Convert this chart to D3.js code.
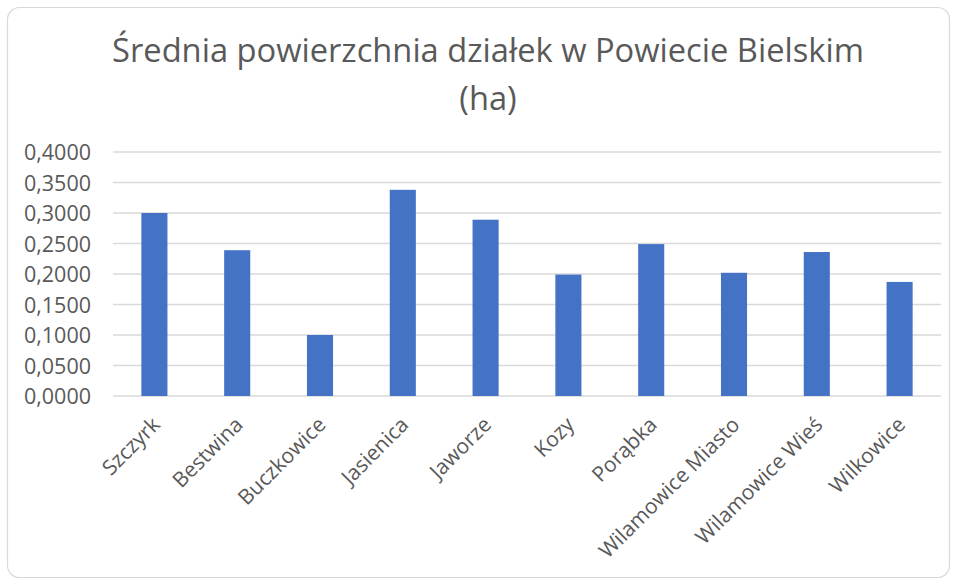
<!DOCTYPE html>
<html>
<head>
<meta charset="utf-8">
<script src="https://cdn.jsdelivr.net/npm/d3@7"></script>
<style>
  html, body { margin: 0; padding: 0; background: #fff; }
  svg text { font-family: "Open Sans", "Segoe UI", sans-serif; fill: #595959; }
</style>
</head>
<body>
<div id="chart"></div>
<script>
'use strict';

var width = 958,
    height = 583;

var title_lines = ['Średnia powierzchnia działek w Powiecie Bielskim', '(ha)'];

var gminy = ['Szczyrk', 'Bestwina', 'Buczkowice', 'Jasienica', 'Jaworze',
             'Kozy', 'Porąbka', 'Wilamowice Miasto', 'Wilamowice Wieś', 'Wilkowice'];

var srednia = [0.300, 0.239, 0.100, 0.338, 0.289, 0.199, 0.249, 0.202, 0.236, 0.187];

var y_ticks = [0, 0.05, 0.1, 0.15, 0.2, 0.25, 0.3, 0.35, 0.4];

var plot = { left: 113, right: 941, top: 152, bottom: 396 };

var svg = d3.select('#chart').append('svg')
    .attr('width', width)
    .attr('height', height);

// ramka wykresu
svg.append('rect')
    .attr('x', 7.5).attr('y', 7.5)
    .attr('width', 942).attr('height', 570)
    .attr('rx', 12).attr('ry', 12)
    .style('fill', '#fff')
    .style('stroke', '#d9d9d9')
    .style('stroke-width', 1.2);

var x = d3.scaleBand()
    .domain(gminy)
    .range([plot.left, plot.right])
    .paddingInner(0.685)
    .paddingOuter(0.3425);

var y = d3.scaleLinear()
    .domain([0, 0.4])
    .range([plot.bottom, plot.top]);

var fmt = function(v) {
    return d3.format('.4f')(v).replace('.', ',');
};

// linie siatki
svg.append('g').selectAll('line').data(y_ticks)
    .enter().append('line')
    .attr('x1', plot.left)
    .attr('x2', plot.right)
    .attr('y1', function(d) { return y(d); })
    .attr('y2', function(d) { return y(d); })
    .style('stroke', '#d9d9d9')
    .style('stroke-width', 1.3);

var yAxis = svg.append('g')
    .attr('transform', 'translate(' + (plot.left - 22) + ',0)')
    .call(d3.axisLeft(y).tickValues(y_ticks).tickFormat(fmt).tickSize(0).tickPadding(0));
yAxis.select('.domain').remove();
yAxis.selectAll('text')
    .attr('font-size', 21.5)
    .attr('dy', '0.35em')
    .style('fill', '#595959');

// słupki
svg.append('g').selectAll('rect').data(srednia)
    .enter().append('rect')
    .attr('x', function(d, i) { return x(gminy[i]); })
    .attr('y', function(d) { return y(d); })
    .attr('width', x.bandwidth())
    .attr('height', function(d) { return y(0) - y(d); })
    .style('fill', '#4472c4');

var xAxis = svg.append('g')
    .attr('transform', 'translate(0,' + plot.bottom + ')')
    .call(d3.axisBottom(x).tickSize(0).tickPadding(0));
xAxis.select('.domain').remove();
xAxis.selectAll('text')
    .attr('font-size', 21)
    .attr('text-anchor', 'end')
    .attr('dy', null)
    .attr('y', 0)
    .attr('transform', 'translate(7,30) rotate(-45)')
    .style('fill', '#595959');

// tytuł
var title = svg.append('g');
title.selectAll('text').data(title_lines)
    .enter().append('text')
    .attr('x', 488)
    .attr('y', function(d, i) { return 62 + i * 48; })
    .attr('text-anchor', 'middle')
    .attr('font-size', 28)
    .text(function(d) { return d; });

// dopasowanie rozmiaru tytułu do szerokości z oryginału
var w0 = title.select('text').node().getComputedTextLength();
var fs = 28 * 752 / w0;
title.selectAll('text').attr('font-size', fs);
</script>
</body>
</html>
